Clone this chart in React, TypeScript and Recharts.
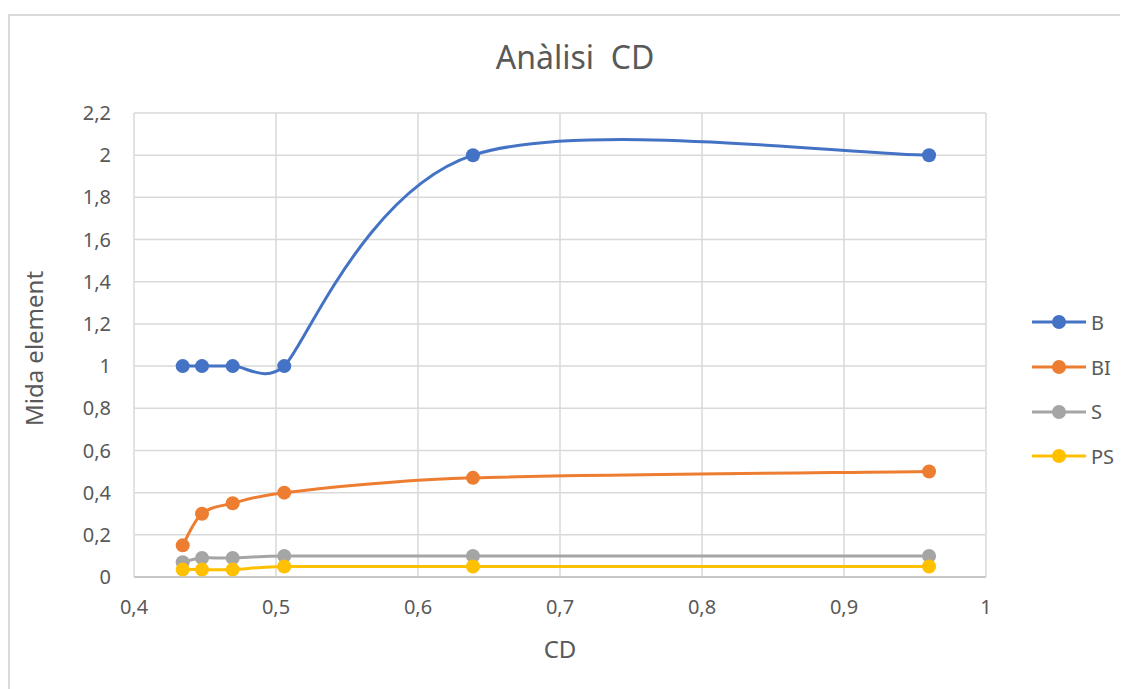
import React from 'react';
import { LineChart, Line, XAxis, YAxis, CartesianGrid, Label } from 'recharts';

const cdValues = [0.4343, 0.4479, 0.4695, 0.5058, 0.6387, 0.9599];
const seriesB = [1, 1, 1, 1, 2, 2];
const seriesBI = [0.15, 0.3, 0.35, 0.4, 0.47, 0.5];
const seriesS = [0.07, 0.09, 0.09, 0.1, 0.1, 0.1];
const seriesPS = [0.035, 0.035, 0.035, 0.05, 0.05, 0.05];

const xTicks = [0.4, 0.5, 0.6, 0.7, 0.8, 0.9, 1];
const yTicks = [0, 0.2, 0.4, 0.6, 0.8, 1, 1.2, 1.4, 1.6, 1.8, 2, 2.2];

const series = [
  { key: 'B', color: '#4472C4', values: seriesB },
  { key: 'BI', color: '#ED7D31', values: seriesBI },
  { key: 'S', color: '#A5A5A5', values: seriesS },
  { key: 'PS', color: '#FFC000', values: seriesPS },
];

const data = cdValues.map((cd, i) => {
  const row: Record<string, number> = { cd };
  series.forEach(s => { row[s.key] = s.values[i]; });
  return row;
});

const textColor = '#595959';
const font = '"Noto Sans", sans-serif';

const dist = (a: number[], b: number[]) => Math.hypot(a[0] - b[0], a[1] - b[1]);

// Excel-style smoothed line: Catmull-Rom tangents, shortened when a neighbouring segment is short
const excelSmooth = (context: any) => {
  let pts: number[][] = [];
  return {
    areaStart() {},
    areaEnd() {},
    lineStart() { pts = []; },
    point(x: number, y: number) { pts.push([+x, +y]); },
    lineEnd() {
      const n = pts.length;
      if (!n) return;
      // tangent vector scaled per point
      const tan = pts.map((p, i) => {
        const prev = pts[i - 1] || p;
        const next = pts[i + 1] || p;
        const tx = next[0] - prev[0];
        const ty = next[1] - prev[1];
        const d02 = Math.hypot(tx, ty);
        let f = 1 / 6;
        if (d02 > 0) {
          const lims: number[] = [];
          if (i > 0) lims.push(dist(prev, p));
          if (i < n - 1) lims.push(dist(p, next));
          const m = Math.min(...lims);
          if (d02 / 6 > m / 2) f = m / (2 * d02);
        }
        return [tx * f, ty * f];
      });
      context.moveTo(pts[0][0], pts[0][1]);
      for (let i = 0; i < n - 1; i++) {
        const p1 = pts[i];
        const p2 = pts[i + 1];
        context.bezierCurveTo(
          p1[0] + tan[i][0], p1[1] + tan[i][1],
          p2[0] - tan[i + 1][0], p2[1] - tan[i + 1][1],
          p2[0], p2[1]
        );
      }
    },
  };
};

const fmt = (v: number) => String(Math.round(v * 10) / 10).replace('.', ',');

export default function App() {
  return (
    <div style={{ position: 'relative', width: 1120, height: 675, marginTop: 6, borderTop: '2px solid #d9d9d9', borderLeft: '2px solid #d9d9d9', fontFamily: font, background: '#fff' }}>
      <div style={{ position: 'absolute', left: 0, width: 1130, top: 22, textAlign: 'center', fontSize: 32, color: textColor, whiteSpace: 'pre', lineHeight: '38px' }}>
        Anàlisi  CD
      </div>
      <LineChart width={1110} height={670} data={data} margin={{ top: 97, right: 134, bottom: 49, left: 0 }}>
        <CartesianGrid stroke="#d9d9d9" strokeWidth={1.5} />
        <XAxis
          dataKey="cd"
          type="number"
          domain={[0.4, 1]}
          ticks={xTicks}
          tickFormatter={fmt}
          height={60}
          tickLine={false}
          tickSize={0}
          tickMargin={23}
          axisLine={{ stroke: '#bfbfbf', strokeWidth: 1.5 }}
          tick={{ fill: textColor, fontSize: 20, fontFamily: font }}
        >
          <Label
            content={({ viewBox }: any) => (
              <text x={viewBox.x + viewBox.width / 2} y={viewBox.y + 71} textAnchor="middle" dominantBaseline="central" fill={textColor} fontSize={24} fontFamily={font}>CD</text>
            )}
          />
        </XAxis>
        <YAxis
          type="number"
          domain={[0, 2.2]}
          ticks={yTicks}
          tickFormatter={fmt}
          width={124}
          tickLine={false}
          tickSize={0}
          tickMargin={23}
          axisLine={false}
          tick={{ fill: textColor, fontSize: 20, fontFamily: font }}
        >
          <Label
            content={({ viewBox }: any) => {
              const cx = viewBox.x + 23;
              const cy = viewBox.y + viewBox.height / 2 + 3.5;
              return (
                <text x={cx} y={cy} transform={`rotate(-90, ${cx}, ${cy})`} textAnchor="middle" dominantBaseline="central" fill={textColor} fontSize={24} fontFamily={font}>Mida element</text>
              );
            }}
          />
        </YAxis>
        {series.map(s => (
          <Line
            key={s.key}
            dataKey={s.key}
            type={excelSmooth as any}
            stroke={s.color}
            strokeWidth={3}
            dot={{ r: 7, fill: s.color, stroke: 'none' }}
            activeDot={false}
            isAnimationActive={false}
          />
        ))}
      </LineChart>
      <div style={{ position: 'absolute', left: 1020, top: 284 }}>
        {series.map(s => (
          <div key={s.key} style={{ height: 44.7, display: 'flex', alignItems: 'center' }}>
            <svg width={56} height={20}>
              <line x1={2} y1={10} x2={56} y2={10} stroke={s.color} strokeWidth={3} />
              <circle cx={29} cy={10} r={7} fill={s.color} />
            </svg>
            <span style={{ marginLeft: 5, fontSize: 20, color: textColor }}>{s.key}</span>
          </div>
        ))}
      </div>
    </div>
  );
}
